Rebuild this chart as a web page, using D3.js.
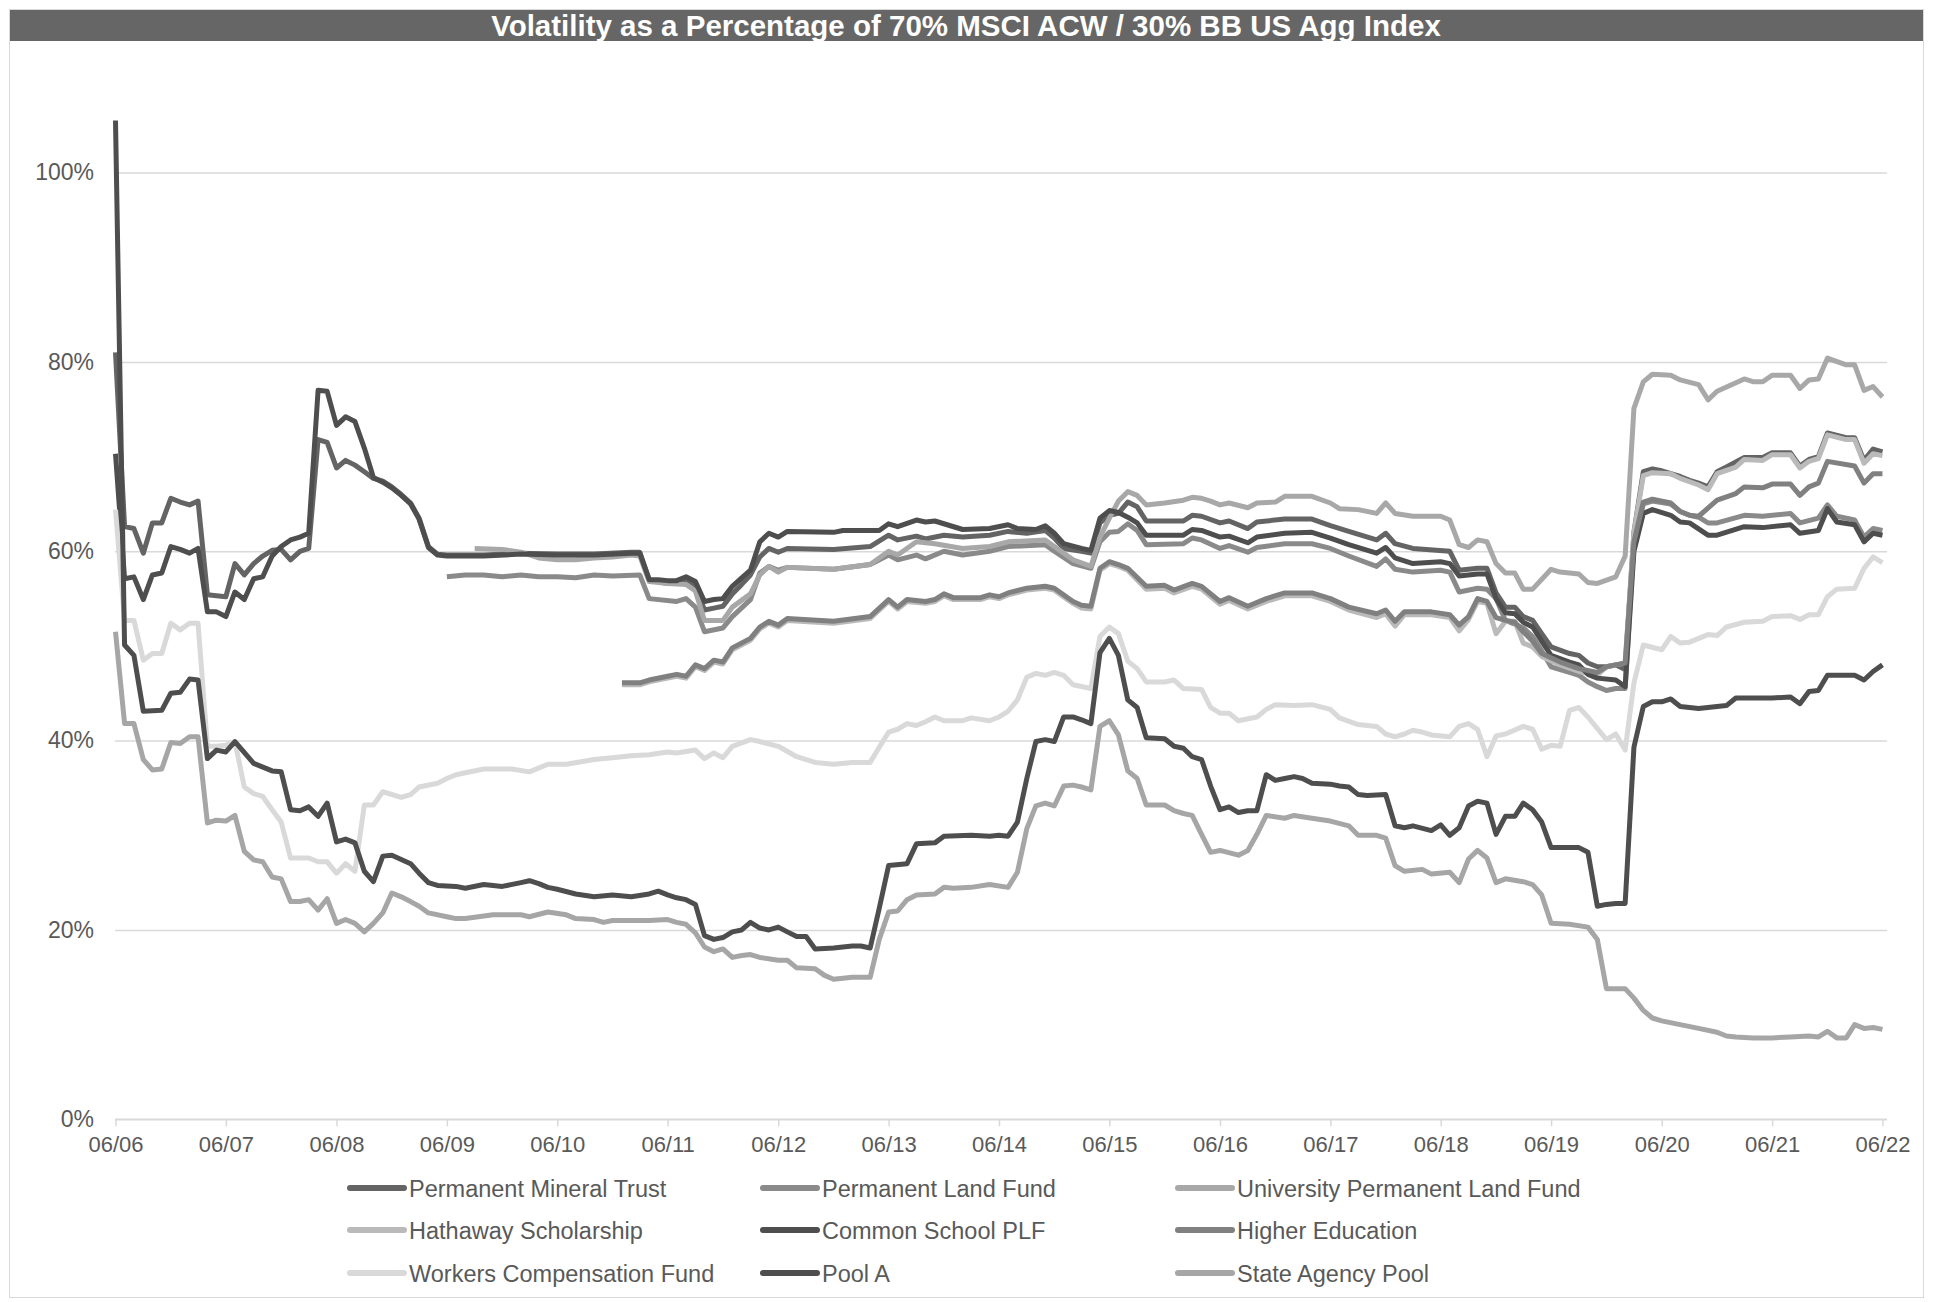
<!DOCTYPE html>
<html>
<head>
<meta charset="utf-8">
<script src="https://cdn.jsdelivr.net/npm/d3@7"></script>
<style>
body { margin: 0; background: #fff; }
text { font-family: "Liberation Sans", Arial, sans-serif; }
</style>
</head>
<body>
<svg id="chart" width="1938" height="1302"></svg>
<script>
var chartTitle = "Volatility as a Percentage of 70% MSCI ACW / 30% BB US Agg Index";
var tickLabels = ["06/06","06/07","06/08","06/09","06/10","06/11","06/12","06/13","06/14","06/15","06/16","06/17","06/18","06/19","06/20","06/21","06/22"];
var yTicks = [0, 20, 40, 60, 80, 100];

var seriesNames = ["Permanent Mineral Trust", "Permanent Land Fund", "University Permanent Land Fund",
                   "Hathaway Scholarship", "Common School PLF", "Higher Education",
                   "Workers Compensation Fund", "Pool A", "State Agency Pool"];

// [months after 06/06, volatility %]
var permanentMineralTrust = [[0,81.0],[1,62.6],[2,62.4],[3,59.8],[4,63.0],[5,63.0],[6,65.6],[7,65.2],[8,64.9],[9,65.3],[10,55.4],[11,55.3],[12,55.2],[13,58.7],[14,57.5],[15,58.7],[16,59.5],[17,60.1],[18,60.2],[19,59.1],[20,60.0],[21,60.3],[22,71.8],[23,71.5],[24,68.8],[25,69.6],[26,69.1],[27,68.4],[28,67.7],[29,67.4],[30,66.8],[31,66.0],[32,65.1],[33,63.5],[34,60.5],[35,59.7],[36,59.6],[40,59.6],[44,59.8],[48,59.7],[52,59.7],[56,59.9],[57,59.9],[58,57.0],[60,56.6],[62,56.8],[63,56.3],[64,53.8],[65,54.0],[66,54.2],[67,55.5],[68,56.5],[69,57.5],[70,59.4],[71,60.3],[72,59.9],[73,60.3],[78,60.2],[82,60.5],[84,61.7],[85,61.2],[87,61.6],[88,61.3],[90,61.7],[92,61.5],[95,61.7],[97,62.1],[99,61.9],[101,62.2],[102,61.4],[103,60.3],[105,60.0],[106,59.8],[107,63.0],[108,63.8],[109,64.0],[110,65.2],[111,64.7],[112,63.2],[116,63.2],[117,63.8],[118,63.7],[120,63.0],[121,63.2],[123,62.4],[124,63.1],[127,63.4],[130,63.4],[132,62.7],[134,62.1],[137,61.2],[138,61.9],[139,60.8],[141,60.3],[145,60.0],[146,58.0],[148,58.2],[149,58.2],[150,55.6],[151,54.1],[152,54.1],[153,53.1],[154,52.7],[155,51.3],[156,49.9],[158,49.2],[159,49.0],[160,48.2],[161,47.8],[162,47.8],[163,48.0],[164,47.5],[165,62.0],[166,68.4],[167,68.7],[168,68.5],[170,67.9],[171,67.5],[172,67.2],[173,66.8],[174,68.4],[175,68.9],[177,69.9],[179,69.9],[180,70.4],[182,70.4],[183,69.0],[184,69.7],[185,70.0],[186,72.5],[188,72.0],[189,72.0],[190,69.6],[191,70.8],[192,70.5]];

var permanentLandFund = [[36,57.3],[38,57.5],[40,57.5],[42,57.3],[44,57.5],[46,57.3],[48,57.3],[50,57.2],[52,57.5],[54,57.4],[57,57.5],[58,55.0],[61,54.7],[62,55.0],[63,54.1],[64,51.5],[66,51.9],[67,53.1],[69,54.9],[70,57.7],[71,58.4],[72,58.0],[73,58.3],[78,58.1],[82,58.6],[84,59.6],[85,59.1],[87,59.6],[88,59.2],[90,60.0],[92,59.6],[95,60.0],[97,60.5],[101,60.7],[102,60.0],[104,58.7],[106,58.2],[107,61.0],[108,62.0],[109,62.1],[110,62.9],[111,62.2],[112,60.7],[116,60.8],[117,61.4],[118,61.2],[120,60.3],[121,60.6],[123,59.9],[124,60.4],[127,60.8],[130,60.8],[132,60.3],[134,59.5],[137,58.4],[138,59.2],[139,58.1],[141,57.8],[144,58.0],[145,57.8],[146,55.7],[148,56.1],[149,56.0],[150,55.0],[151,52.7],[152,52.3],[153,51.9],[154,51.0],[155,49.5],[156,47.8],[158,47.2],[159,46.9],[160,46.2],[161,45.7],[162,45.3],[163,45.5],[164,45.5],[165,61.0],[166,65.0],[167,65.3],[169,65.0],[170,64.2],[171,63.8],[172,63.6],[173,63.0],[174,63.0],[177,63.8],[179,63.7],[182,64.0],[183,63.0],[185,63.5],[186,64.9],[187,63.7],[189,63.3],[190,61.5],[191,62.4],[192,62.2]];

var universityPermanentLandFund = [[39,60.3],[42,60.2],[44,59.9],[46,59.3],[48,59.1],[50,59.1],[52,59.3],[54,59.4],[56,59.6],[57,59.5],[58,56.8],[60,56.6],[62,56.5],[63,55.8],[64,52.7],[66,52.7],[67,54.1],[69,55.5],[70,57.5],[71,58.4],[72,57.8],[73,58.3],[78,58.1],[82,58.6],[84,60.0],[85,59.6],[87,61.0],[89,60.8],[92,60.3],[95,60.5],[97,61.0],[101,61.2],[102,60.5],[104,59.1],[106,58.4],[107,61.5],[108,63.5],[109,65.3],[110,66.3],[111,65.9],[112,64.9],[114,65.1],[116,65.4],[117,65.7],[118,65.6],[119,65.3],[120,64.9],[121,65.1],[123,64.6],[124,65.1],[126,65.2],[127,65.8],[130,65.8],[132,65.1],[133,64.5],[135,64.4],[137,64.0],[138,65.1],[139,64.0],[141,63.7],[144,63.7],[145,63.3],[146,60.7],[147,60.4],[148,61.2],[149,61.0],[150,58.7],[151,57.7],[152,57.7],[153,56.0],[154,56.0],[156,58.1],[157,57.8],[159,57.6],[160,56.7],[161,56.6],[163,57.3],[164,59.5],[165,75.1],[166,77.9],[167,78.7],[169,78.6],[170,78.1],[172,77.6],[173,76.0],[174,76.9],[177,78.2],[178,77.9],[179,77.9],[180,78.6],[182,78.6],[183,77.2],[184,78.1],[185,78.2],[186,80.4],[188,79.7],[189,79.7],[190,77.0],[191,77.4],[192,76.3]];

var hathawayScholarship = [[55,45.9],[57,45.9],[58,46.2],[60,46.6],[61,46.8],[62,46.6],[63,47.8],[64,47.4],[65,48.3],[66,48.1],[67,49.6],[69,50.6],[70,51.8],[71,52.4],[72,52.0],[73,52.7],[78,52.4],[82,52.9],[84,54.7],[85,53.9],[86,54.7],[88,54.5],[89,54.7],[90,55.3],[91,54.9],[94,54.9],[95,55.2],[96,55.0],[97,55.4],[99,55.9],[101,56.1],[102,55.9],[104,54.5],[105,54.0],[106,53.9],[107,58.0],[108,58.7],[109,58.4],[110,58.0],[112,56.0],[114,56.1],[115,55.6],[117,56.3],[118,56.0],[120,54.4],[121,54.8],[123,53.9],[125,54.7],[127,55.3],[130,55.3],[132,54.7],[134,53.8],[137,53.0],[138,53.4],[139,52.1],[140,53.3],[143,53.3],[145,53.0],[146,51.6],[147,52.8],[148,54.7],[149,54.5],[150,51.3],[151,52.6],[152,52.6],[153,50.3],[154,49.9],[155,48.9],[157,48.0],[159,47.3],[161,46.9],[162,47.8],[163,48.0],[164,48.2],[165,62.0],[166,68.0],[167,68.3],[169,68.2],[170,67.7],[172,67.0],[173,66.5],[174,68.2],[176,68.9],[177,69.7],[179,69.6],[180,70.2],[182,70.2],[183,68.8],[184,69.5],[185,69.8],[186,72.3],[188,71.8],[189,71.8],[190,69.3],[191,70.3],[192,70.1]];

var commonSchoolPLF = [[0,70.3],[1,57.1],[2,57.3],[3,54.9],[4,57.5],[5,57.7],[6,60.5],[7,60.2],[8,59.8],[9,60.3],[10,53.6],[11,53.6],[12,53.1],[13,55.7],[14,54.9],[15,57.1],[16,57.3],[17,59.5],[18,60.5],[19,61.2],[20,61.5],[21,61.9],[22,77.0],[23,76.9],[24,73.3],[25,74.2],[26,73.7],[27,70.9],[28,67.8],[29,67.3],[30,66.7],[31,65.9],[32,65.0],[33,63.4],[34,60.4],[35,59.6],[36,59.5],[40,59.5],[44,59.7],[48,59.6],[52,59.6],[56,59.8],[57,59.8],[58,57.0],[59,57.0],[60,56.9],[61,56.9],[62,57.3],[63,56.8],[64,54.7],[65,54.9],[66,55.0],[67,56.3],[68,57.2],[69,58.0],[70,61.0],[71,61.9],[72,61.5],[73,62.1],[78,62.0],[79,62.2],[83,62.2],[84,62.9],[85,62.6],[87,63.3],[88,63.1],[89,63.2],[92,62.3],[95,62.4],[97,62.8],[98,62.4],[100,62.3],[101,62.7],[102,61.9],[103,60.8],[105,60.3],[106,60.1],[107,63.5],[108,64.3],[109,64.1],[110,63.6],[111,63.0],[112,61.7],[116,61.7],[117,62.3],[118,62.2],[120,61.5],[121,61.6],[123,60.9],[124,61.5],[127,61.9],[130,62.0],[132,61.4],[134,60.7],[137,59.8],[138,60.4],[139,59.3],[141,58.7],[144,58.9],[145,58.7],[146,57.4],[148,57.6],[149,57.6],[150,55.0],[151,53.5],[152,53.4],[153,52.5],[154,52.0],[155,50.5],[156,49.0],[158,48.3],[159,48.0],[160,47.0],[161,46.6],[163,46.4],[164,45.7],[165,60.0],[166,64.0],[167,64.4],[169,63.8],[170,63.1],[171,63.0],[173,61.7],[174,61.7],[177,62.6],[179,62.5],[182,62.8],[183,61.9],[185,62.2],[186,64.5],[187,63.1],[189,62.8],[190,61.0],[191,61.9],[192,61.7]];

var higherEducation = [[55,46.1],[57,46.1],[58,46.4],[60,46.8],[61,47.0],[62,46.8],[63,48.0],[64,47.6],[65,48.5],[66,48.3],[67,49.8],[69,50.8],[70,52.0],[71,52.6],[72,52.2],[73,52.9],[78,52.6],[82,53.1],[84,54.9],[85,54.1],[86,54.9],[88,54.7],[89,54.9],[90,55.5],[91,55.1],[94,55.1],[95,55.4],[96,55.2],[97,55.6],[99,56.1],[101,56.3],[102,56.1],[104,54.7],[105,54.3],[106,54.2],[107,58.2],[108,58.9],[109,58.6],[110,58.2],[112,56.3],[114,56.4],[115,55.9],[117,56.6],[118,56.3],[120,54.7],[121,55.1],[123,54.2],[125,55.0],[127,55.6],[130,55.6],[132,55.0],[134,54.1],[137,53.4],[138,53.8],[139,52.6],[140,53.6],[143,53.6],[145,53.3],[146,52.2],[147,53.1],[148,55.0],[149,54.7],[150,53.0],[151,52.7],[152,52.5],[153,51.5],[154,50.5],[155,49.2],[157,48.3],[159,47.6],[161,47.2],[162,47.8],[163,48.0],[164,48.2],[165,61.0],[166,65.2],[167,65.5],[169,65.1],[170,64.2],[171,63.8],[172,63.7],[174,65.4],[176,66.1],[177,66.8],[179,66.7],[180,67.1],[182,67.1],[183,65.9],[184,66.8],[185,67.2],[186,69.5],[189,69.0],[190,67.2],[191,68.2],[192,68.2]];

var workersCompensationFund = [[0,64.4],[1,52.7],[2,52.7],[3,48.5],[4,49.2],[5,49.2],[6,52.4],[7,51.7],[8,52.4],[9,52.4],[10,39.4],[11,39.4],[12,39.5],[13,39.9],[14,35.1],[15,34.4],[16,34.1],[17,32.7],[18,31.4],[19,27.6],[21,27.6],[22,27.2],[23,27.2],[24,26.0],[25,27.0],[26,26.2],[27,33.2],[28,33.2],[29,34.6],[31,34.0],[32,34.3],[33,35.1],[35,35.5],[36,36.0],[37,36.4],[38,36.6],[40,37.0],[43,37.0],[45,36.7],[47,37.5],[49,37.5],[52,38.0],[54,38.2],[56,38.4],[58,38.5],[60,38.8],[61,38.7],[63,39.0],[64,38.1],[65,38.7],[66,38.2],[67,39.4],[69,40.1],[70,39.9],[72,39.4],[74,38.3],[76,37.7],[78,37.5],[80,37.7],[82,37.7],[83,39.3],[84,40.9],[85,41.2],[86,41.8],[87,41.6],[88,42.0],[89,42.5],[90,42.1],[92,42.1],[93,42.4],[95,42.1],[96,42.5],[97,43.1],[98,44.3],[99,46.7],[100,47.1],[101,46.9],[102,47.2],[103,46.9],[104,45.9],[106,45.5],[107,51.0],[108,52.0],[109,51.3],[110,48.4],[111,47.6],[112,46.2],[114,46.2],[115,46.4],[116,45.5],[118,45.4],[119,43.5],[120,42.9],[121,42.9],[122,42.1],[124,42.5],[125,43.3],[126,43.8],[128,43.7],[130,43.8],[132,43.3],[133,42.4],[135,41.7],[137,41.5],[138,40.7],[139,40.4],[140,40.7],[141,41.1],[142,40.9],[143,40.6],[145,40.4],[146,41.5],[147,41.8],[148,41.2],[149,38.3],[150,40.5],[151,40.7],[153,41.5],[154,41.2],[155,39.1],[156,39.5],[157,39.4],[158,43.2],[159,43.5],[160,42.5],[162,40.1],[163,40.7],[164,39.0],[165,46.1],[166,50.1],[168,49.6],[169,51.0],[170,50.3],[171,50.4],[173,51.2],[174,51.1],[175,52.0],[177,52.5],[179,52.6],[180,53.1],[182,53.2],[183,52.8],[184,53.3],[185,53.3],[186,55.2],[187,56.0],[189,56.1],[190,58.2],[191,59.4],[192,58.8]];

var poolA = [[0,105.5],[1,50.1],[2,49.0],[3,43.1],[5,43.2],[6,45.0],[7,45.1],[8,46.5],[9,46.4],[10,38.1],[11,39.0],[12,38.8],[13,39.9],[15,37.6],[17,36.8],[18,36.7],[19,32.7],[20,32.6],[21,33.0],[22,32.0],[23,33.4],[24,29.3],[25,29.6],[26,29.2],[27,26.2],[28,25.1],[29,27.8],[30,27.9],[32,27.0],[33,26.0],[34,25.0],[35,24.7],[37,24.6],[38,24.4],[40,24.8],[42,24.6],[44,25.0],[45,25.2],[46,24.9],[47,24.5],[48,24.3],[50,23.8],[52,23.5],[54,23.7],[56,23.5],[58,23.8],[59,24.1],[60,23.7],[61,23.4],[62,23.2],[63,22.7],[64,19.4],[65,19.0],[66,19.2],[67,19.8],[68,20.0],[69,20.8],[70,20.2],[71,20.0],[72,20.3],[73,19.8],[74,19.3],[75,19.3],[76,18.0],[78,18.1],[80,18.3],[81,18.3],[82,18.1],[83,22.3],[84,26.8],[86,27.0],[87,29.1],[89,29.2],[90,29.9],[93,30.0],[95,29.9],[96,30.0],[97,29.9],[98,31.4],[99,36.0],[100,39.9],[101,40.1],[102,39.9],[103,42.5],[104,42.5],[105,42.2],[106,41.8],[107,49.3],[108,50.8],[109,49.0],[110,44.3],[111,43.5],[112,40.3],[114,40.2],[115,39.4],[116,39.2],[117,38.3],[118,38.0],[119,35.2],[120,32.7],[121,33.0],[122,32.4],[123,32.6],[124,32.6],[125,36.4],[126,35.8],[127,36.0],[128,36.2],[129,36.0],[130,35.5],[132,35.4],[133,35.2],[134,35.1],[135,34.3],[136,34.2],[138,34.3],[139,31.0],[140,30.8],[141,31.0],[143,30.5],[144,31.1],[145,30.0],[146,30.8],[147,33.1],[148,33.6],[149,33.4],[150,30.1],[151,32.0],[152,32.0],[153,33.4],[154,32.7],[155,31.4],[156,28.7],[159,28.7],[160,28.2],[161,22.5],[162,22.7],[163,22.8],[164,22.8],[165,39.3],[166,43.6],[167,44.1],[168,44.1],[169,44.4],[170,43.6],[172,43.4],[174,43.6],[175,43.7],[176,44.5],[180,44.5],[182,44.6],[183,43.9],[184,45.2],[185,45.3],[186,46.9],[189,46.9],[190,46.4],[191,47.3],[192,48.0]];

var stateAgencyPool = [[0,51.5],[1,41.8],[2,41.8],[3,38.0],[4,36.9],[5,37.0],[6,39.8],[7,39.7],[8,40.4],[9,40.4],[10,31.3],[11,31.6],[12,31.5],[13,32.1],[14,28.3],[15,27.4],[16,27.2],[17,25.6],[18,25.4],[19,23.0],[20,23.0],[21,23.2],[22,22.1],[23,23.3],[24,20.7],[25,21.1],[26,20.7],[27,19.8],[28,20.7],[29,21.8],[30,23.9],[31,23.5],[32,23.0],[33,22.5],[34,21.8],[36,21.4],[37,21.2],[38,21.2],[41,21.6],[44,21.6],[45,21.4],[47,21.9],[49,21.6],[50,21.2],[52,21.1],[53,20.8],[54,21.0],[58,21.0],[60,21.1],[61,20.8],[62,20.6],[63,19.7],[64,18.2],[65,17.7],[66,18.0],[67,17.1],[68,17.3],[69,17.4],[70,17.1],[72,16.8],[73,16.8],[74,16.0],[76,15.9],[77,15.2],[78,14.8],[80,15.0],[82,15.0],[83,19.0],[84,21.9],[85,22.0],[86,23.2],[87,23.7],[89,23.8],[90,24.5],[91,24.4],[93,24.5],[95,24.8],[97,24.5],[98,26.1],[99,30.7],[100,33.1],[101,33.4],[102,33.1],[103,35.2],[104,35.3],[105,35.1],[106,34.8],[107,41.5],[108,42.1],[109,40.6],[110,36.8],[111,36.0],[112,33.2],[114,33.2],[115,32.6],[116,32.3],[117,32.1],[118,30.1],[119,28.2],[120,28.4],[122,27.9],[123,28.4],[124,30.1],[125,32.1],[127,31.8],[128,32.1],[130,31.8],[132,31.5],[134,31.0],[135,30.0],[137,30.0],[138,29.7],[139,26.8],[140,26.2],[142,26.4],[143,25.9],[145,26.1],[146,25.0],[147,27.5],[148,28.4],[149,27.6],[150,25.0],[151,25.4],[153,25.1],[154,24.8],[155,23.7],[156,20.7],[158,20.6],[160,20.3],[161,19.0],[162,13.8],[164,13.8],[165,12.8],[166,11.5],[167,10.7],[168,10.4],[170,10.0],[172,9.6],[174,9.2],[175,8.8],[176,8.7],[178,8.6],[180,8.6],[182,8.7],[184,8.8],[185,8.7],[186,9.3],[187,8.6],[188,8.6],[189,10.0],[190,9.6],[191,9.7],[192,9.5]];

var seriesData = [permanentMineralTrust, permanentLandFund, universityPermanentLandFund,
                  hathawayScholarship, commonSchoolPLF, higherEducation,
                  workersCompensationFund, poolA, stateAgencyPool];
var seriesColors = ["#646464", "#8a8a8a", "#a8a8a8", "#bababa", "#4e4e4e", "#808080", "#d9d9d9", "#4e4e4e", "#a6a6a6"];

var svg = d3.select("#chart");

// outer frame and title bar
svg.append("rect").attr("x", 9.5).attr("y", 9.5).attr("width", 1914).attr("height", 1288)
   .attr("fill", "#fff").attr("stroke", "#d9d9d9").attr("stroke-width", 1);
svg.append("rect").attr("x", 10).attr("y", 10).attr("width", 1913).attr("height", 31).attr("fill", "#666666");
svg.append("text").attr("x", 966).attr("y", 35.5).attr("text-anchor", "middle")
   .attr("fill", "#fff").attr("font-size", "29.5px").attr("font-weight", "bold").text(chartTitle);

var parseTick = d3.timeParse("%m/%y");
var start = parseTick(tickLabels[0]);
function toDate(m) { return d3.timeMonth.offset(start, m); }

var x = d3.scaleTime()
    .domain([start, d3.timeDay.offset(parseTick(tickLabels[tickLabels.length - 1]), 15)])
    .range([115.5, 1887]);
var y = d3.scaleLinear().domain([0, 100]).range([1119.3, 172.6]);

// gridlines + y labels
var yAxis = svg.append("g").attr("transform", "translate(115,0)")
    .call(d3.axisLeft(y).tickValues(yTicks).tickSize(-1772).tickPadding(21)
          .tickFormat(function(d) { return d + "%"; }));
yAxis.select(".domain").remove();
yAxis.selectAll(".tick line").attr("stroke", "#d9d9d9").attr("stroke-width", 1.5);
yAxis.selectAll(".tick text").attr("fill", "#595959").attr("font-size", "23px")
     .attr("font-family", "Liberation Sans, Arial, sans-serif");

// x axis
var xAxis = svg.append("g").attr("transform", "translate(0," + y(0) + ")")
    .call(d3.axisBottom(x).tickValues(tickLabels.map(parseTick)).tickSize(7).tickPadding(10)
          .tickFormat(d3.timeFormat("%m/%y")));
xAxis.select(".domain").attr("stroke", "#d9d9d9").attr("stroke-width", 1.5)
     .attr("d", "M115,0H1887");
xAxis.selectAll(".tick line").attr("stroke", "#d9d9d9").attr("stroke-width", 1.5);
xAxis.selectAll(".tick text").attr("fill", "#595959").attr("font-size", "22px")
     .attr("font-family", "Liberation Sans, Arial, sans-serif");

// lines
var line = d3.line()
    .x(function(d) { return x(toDate(d[0])); })
    .y(function(d) { return y(d[1]); });

svg.append("g").selectAll("path").data(seriesData).enter().append("path")
   .attr("d", line)
   .attr("fill", "none")
   .attr("stroke", function(d, i) { return seriesColors[i]; })
   .attr("stroke-width", 5)
   .attr("stroke-linejoin", "round");

// legend
var legendCols = [350, 763, 1178];
var legendRows = [1188, 1230, 1273];
var legend = svg.append("g").selectAll("g").data(seriesNames).enter().append("g")
    .attr("transform", function(d, i) {
        return "translate(" + legendCols[i % 3] + "," + legendRows[Math.floor(i / 3)] + ")";
    });
legend.append("line").attr("x1", 0).attr("x2", 54).attr("y1", 0).attr("y2", 0)
      .attr("stroke", function(d, i) { return seriesColors[i]; })
      .attr("stroke-width", 6).attr("stroke-linecap", "round");
legend.append("text").attr("x", 59).attr("y", 8.5)
      .attr("fill", "#595959").attr("font-size", "23.5px").text(function(d) { return d; });
</script>
</body>
</html>
